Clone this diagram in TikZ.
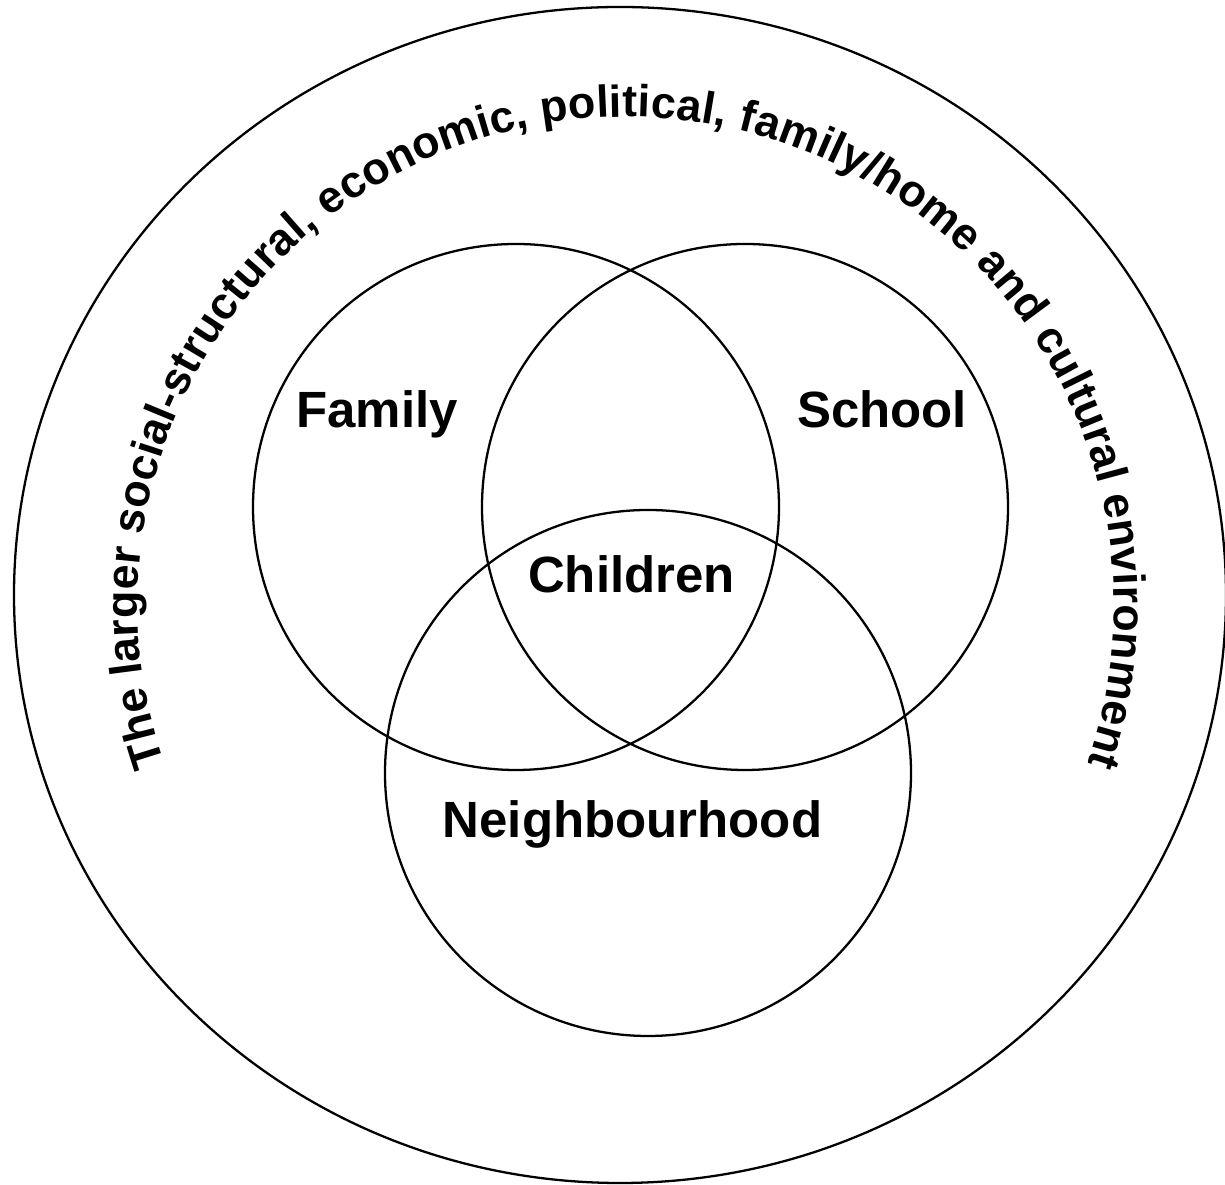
\documentclass[tikz,border=0pt]{standalone}
\usepackage{fontspec}
\setmainfont{Liberation Sans}
\usetikzlibrary{decorations.text}

\begin{document}
\begin{tikzpicture}[
  ring/.style={draw, circle, line width=1.3pt, minimum size=10.52cm, inner sep=0pt},
  tag/.style={font=\fontsize{29}{34}\selectfont\bfseries, anchor=base, inner sep=0pt}
]
\useasboundingbox (0,0) rectangle (24.5,23.7);

% surrounding environment
\draw[line width=1.3pt] (12.4,11.8) ellipse (12.12 and 11.76);

% the three settings
\node[ring] (family) at (10.32,13.56) {};
\node[ring] (school) at (14.9,13.56) {};
\node[ring] (hood) at (12.96,8.24) {};

\node[tag] (familytag) at (7.54,15.14) {Family};
\node[tag] (schooltag) at (17.64,15.14) {School};
\node[tag] (childtag) at (12.63,11.84) {Children};
\node[tag] (hoodtag) at (12.65,6.94) {Neighbourhood};

% curved caption round the top
\path[decorate, decoration={text along path, text align={fit to path},
  text={|\fontsize{25.5}{30}\selectfont\bfseries|The larger social-structural, economic, political, family/home and cultural environment}}]
  (12.52,11.6) ++(199:9.76) arc[start angle=199, end angle=-19, radius=9.76];
\end{tikzpicture}
\end{document}
